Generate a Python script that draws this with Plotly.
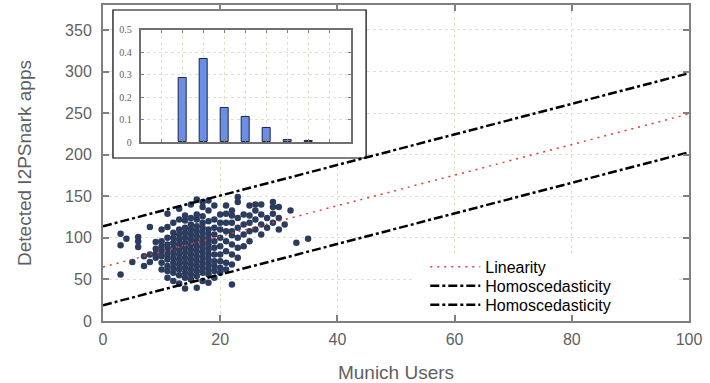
import plotly.graph_objects as go

# ---------------- data ----------------
users_cols = {
    3: [56, 91, 105],
    4: [99],
    5: [71],
    6: [89, 96, 101],
    7: [66, 78],
    8: [71, 80, 113],
    9: [76, 81, 87, 95],
    10: [62, 70, 78, 84, 90, 96, 110],
    11: [52, 60, 66, 74, 80, 86, 92, 100, 113, 129],
    12: [48, 58, 64, 70, 76, 82, 88, 94, 100, 106, 118],
    13: [45, 55, 62, 68, 74, 80, 86, 92, 98, 104, 110, 122, 135],
    14: [39, 52, 58, 64, 70, 76, 82, 88, 94, 100, 106, 112, 121, 127],
    15: [50, 56, 62, 68, 74, 80, 86, 92, 98, 104, 110, 116, 124, 140],
    16: [40, 54, 60, 66, 72, 78, 84, 90, 96, 102, 108, 114, 122, 128, 146],
    17: [48, 58, 64, 70, 76, 82, 88, 94, 100, 106, 112, 118, 126, 137, 143],
    18: [46, 56, 62, 68, 74, 80, 86, 92, 98, 104, 110, 120, 133, 145],
    19: [52, 60, 66, 72, 80, 88, 96, 104, 112, 122, 139],
    20: [58, 64, 72, 80, 90, 100, 110, 118, 128],
    21: [62, 70, 84, 96, 108, 118, 129, 139],
    22: [44, 68, 80, 92, 103, 108, 118, 127, 133],
    23: [76, 88, 100, 112, 124, 143, 149],
    24: [90, 104, 116, 128],
    25: [96, 108, 118, 127, 139],
    26: [110, 122, 133, 140],
    27: [104, 116, 128, 140],
    28: [112, 124],
    29: [118, 129, 137, 143],
    30: [110, 124, 137],
    31: [116],
    32: [133],
    33: [94],
    35: [99],
}
munich_users = [x for x, ys in users_cols.items() for _ in ys]
detected_apps = [y for ys in users_cols.values() for y in ys]

line_x = [0, 100]
linearity_y = [65, 249]
homo_upper_y = [114, 298]
homo_lower_y = [19, 203]

inset_bins = [2, 3, 4, 5, 6, 7, 8]
inset_freq = [0.285, 0.371, 0.151, 0.114, 0.062, 0.010, 0.004]

x_ticks = [0, 20, 40, 60, 80, 100]
y_ticks = [0, 50, 100, 150, 200, 250, 300, 350]
inset_y_ticks = [0, 0.1, 0.2, 0.3, 0.4, 0.5]
inset_y_labels = ["0", "0.1", "0.2", "0.3", "0.4", "0.5"]
inset_x_ticks = [1, 2, 3, 4, 5, 6, 7, 8, 9]

# ---------------- figure ----------------
GRAY = "#808080"
TXT = "#5f5f5f"
GRID = "#e2e2cc"

fig = go.Figure()

fig.add_trace(go.Scatter(
    x=munich_users, y=detected_apps, mode="markers",
    marker=dict(color="#2c3c5f", size=6.5, line=dict(width=0)),
    showlegend=False, xaxis="x", yaxis="y"))

fig.add_trace(go.Scatter(
    x=line_x, y=linearity_y, mode="lines", name="Linearity",
    line=dict(color="#e8392c", width=1.5, dash="2px,5px"),
    xaxis="x", yaxis="y", legend="legend"))
fig.add_trace(go.Scatter(
    x=line_x, y=homo_upper_y, mode="lines", name="Homoscedasticity",
    line=dict(color="black", width=2.5, dash="dashdot"),
    xaxis="x", yaxis="y", legend="legend2"))
fig.add_trace(go.Scatter(
    x=line_x, y=homo_lower_y, mode="lines", name="Homoscedasticity",
    line=dict(color="black", width=2.5, dash="dashdot"),
    xaxis="x", yaxis="y", legend="legend3"))

fig.add_trace(go.Bar(
    x=inset_bins, y=inset_freq, width=0.4,
    marker=dict(color="#6b8fe6", line=dict(color="#1c2440", width=1)),
    showlegend=False, xaxis="x2", yaxis="y2"))

# white inset box covering main gridlines (drawn between grid and traces)
fig.add_shape(type="rect", xref="x", yref="y",
              x0=1.7, x1=44.9, y0=196, y1=374,
              fillcolor="white", line=dict(color="black", width=1.2),
              layer="between")
# white legend background box
fig.add_shape(type="rect", xref="x", yref="y",
              x0=53.0, x1=98.0, y0=9.0, y1=78.0,
              fillcolor="white", line=dict(width=0),
              layer="between")

leg_common = dict(xanchor="left", yanchor="middle", bgcolor="rgba(0,0,0,0)",
                  borderwidth=0, font=dict(size=16, color="black"),
                  itemwidth=50)

fig.update_layout(
    width=710, height=383,
    margin=dict(l=103, r=21, t=5, b=62),
    paper_bgcolor="white", plot_bgcolor="white",
    font=dict(family="Liberation Sans, Arial, sans-serif", size=16, color=TXT),
    showlegend=True,
    legend=dict(x=0.55, y=0.171, **leg_common),
    legend2=dict(x=0.55, y=0.111, **leg_common),
    legend3=dict(x=0.55, y=0.051, **leg_common),
    xaxis=dict(range=[0, 100], tickvals=x_ticks, ticks="inside", ticklen=6,
               tickcolor=GRAY, tickwidth=1.5, showline=True, linecolor=GRAY,
               linewidth=2, mirror="allticks", showgrid=True, gridcolor=GRID,
               griddash="dot", gridwidth=1, zeroline=False, automargin=False,
               ticklabelstandoff=3,
               title=dict(text="Munich Users", standoff=18),
               tickfont=dict(size=16, color=TXT)),
    yaxis=dict(range=[0, 380], tickvals=y_ticks, ticks="inside", ticklen=6,
               tickcolor=GRAY, tickwidth=1.5, showline=True, linecolor=GRAY,
               linewidth=2, mirror="allticks", showgrid=True, gridcolor=GRID,
               griddash="dot", gridwidth=1, zeroline=False, automargin=False,
               ticklabelstandoff=6,
               title=dict(text="Detected I2PSnark apps", standoff=28),
               tickfont=dict(size=16, color=TXT)),
    xaxis2=dict(domain=[0.0643, 0.4227], anchor="y2", range=[0, 10],
                tickvals=inset_x_ticks, showticklabels=False, ticks="inside",
                ticklen=3, tickcolor=GRAY, showline=True, linecolor="#707070",
                linewidth=2, mirror="allticks", showgrid=True, gridcolor=GRID,
                griddash="dot", zeroline=False, automargin=False),
    yaxis2=dict(domain=[0.5655, 0.921], anchor="x2", range=[0, 0.5],
                tickvals=inset_y_ticks, ticktext=inset_y_labels,
                ticks="inside", ticklen=3, tickcolor=GRAY, showline=True,
                linecolor="#707070", linewidth=2, mirror="allticks",
                showgrid=True, gridcolor=GRID, griddash="dot", zeroline=False,
                automargin=False, ticklabelstandoff=5,
                tickfont=dict(family="Liberation Serif, Times New Roman, serif",
                              size=10, color=TXT)),
    bargap=0,
)

fig.write_html("out.html", config={"displayModeBar": False},
               post_script="document.body.style.margin='0';document.body.style.overflow='hidden';")
